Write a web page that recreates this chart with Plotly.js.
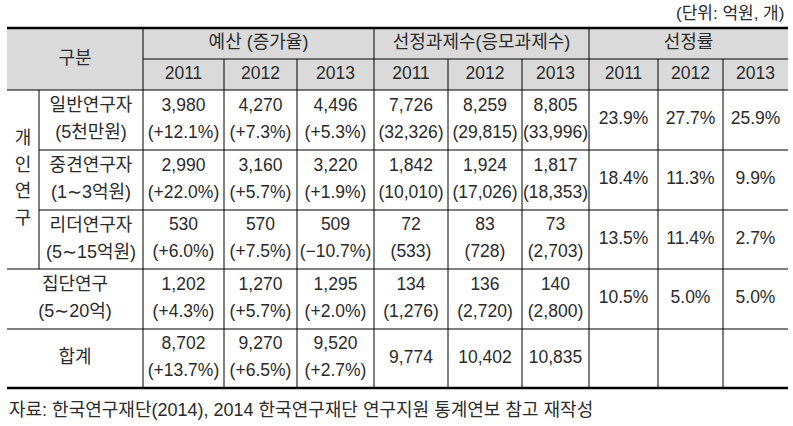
<!DOCTYPE html>
<html>
<head>
<meta charset="utf-8">
<script src="https://cdn.plot.ly/plotly-3.0.1.min.js"></script>
<style>
  body { margin: 0; background: #fff; }
  #table { width: 793px; height: 426px; }
</style>
</head>
<body>
<div id="table"></div>
<script>
// data
const years = ['2011', '2012', '2013'];
const groups = ['예산 (증가율)', '선정과제수(응모과제수)', '선정률'];
const sideLabel = '개인연구';
const rowNames = ['일반연구자', '중견연구자', '리더연구자', '집단연구', '합계'];
const rowSubs = ['(5천만원)', '(1∼3억원)', '(5∼15억원)', '(5∼20억)', null];
const budget = [[3980, 4270, 4496], [2990, 3160, 3220], [530, 570, 509], [1202, 1270, 1295], [8702, 9270, 9520]];
const growth = [[12.1, 7.3, 5.3], [22.0, 5.7, 1.9], [6.0, 7.5, -10.7], [4.3, 5.7, 2.0], [13.7, 6.5, 2.7]];
const selected = [[7726, 8259, 8805], [1842, 1924, 1817], [72, 83, 73], [134, 136, 140], [9774, 10402, 10835]];
const applied = [[32326, 29815, 33996], [10010, 17026, 18353], [533, 728, 2703], [1276, 2720, 2800], [null, null, null]];
const rate = [[23.9, 27.7, 25.9], [18.4, 11.3, 9.9], [13.5, 11.4, 2.7], [10.5, 5.0, 5.0], [null, null, null]];
const unitNote = '(단위: 억원, 개)';
const source = '자료: 한국연구재단(2014), 2014 한국연구재단 연구지원 통계연보 참고 재작성';

// grid layout (pixels)
const colEdges = [7, 39, 143, 224, 297, 374, 448, 522, 589, 658, 723, 788];
const rowEdges = [28, 59, 90, 150, 210, 269, 329, 388];
const half = 13.5;

const fmt = v => v.toLocaleString('en-US');
const pct = v => (v < 0 ? '−' : '+') + Math.abs(v).toFixed(1) + '%';
const mid = (a, b) => (a + b) / 2;
const colMid = c => mid(colEdges[c], colEdges[c + 1]);

let tx = [], ty = [], tt = [], ts = [];
const put = (x, y, s) => {
    tx.push(x); ty.push(y); tt.push(s);
    ts.push(/[\uac00-\ud7a3]/.test(s) ? 18 : 17.5);
};

// header
put(mid(colEdges[0], colEdges[2]), mid(rowEdges[0], rowEdges[2]), '구분');
groups.forEach((g, i) => {
    put(mid(colEdges[2 + i * 3], colEdges[5 + i * 3]), mid(rowEdges[0], rowEdges[1]), g);
    years.forEach((y, j) => put(colMid(2 + i * 3 + j), mid(rowEdges[1], rowEdges[2]), y));
});

// side label, stacked
const sideMid = mid(rowEdges[2], rowEdges[5]);
sideLabel.split('').forEach((ch, i) => {
    put(colMid(0), sideMid + (i - 1.5) * 26.7, ch);
});

// body
rowNames.forEach((name, r) => {
    const ym = mid(rowEdges[r + 2], rowEdges[r + 3]);
    const xl = r < 3 ? colMid(1) : mid(colEdges[0], colEdges[2]);
    if (rowSubs[r]) {
        put(xl, ym - half, name);
        put(xl, ym + half, rowSubs[r]);
    } else {
        put(xl, ym, name);
    }
    years.forEach((y, j) => {
        put(colMid(2 + j), ym - half, fmt(budget[r][j]));
        put(colMid(2 + j), ym + half, '(' + pct(growth[r][j]) + ')');
        if (applied[r][j] !== null) {
            put(colMid(5 + j), ym - half, fmt(selected[r][j]));
            put(colMid(5 + j), ym + half, '(' + fmt(applied[r][j]) + ')');
        } else {
            put(colMid(5 + j), ym, fmt(selected[r][j]));
        }
        if (rate[r][j] !== null) {
            put(colMid(8 + j), ym, rate[r][j].toFixed(1) + '%');
        }
    });
});

// lines
const shapes = [{
    type: 'rect', x0: colEdges[0], x1: colEdges[11], y0: rowEdges[0], y1: rowEdges[2],
    fillcolor: '#dadada', line: {width: 0}, layer: 'below'
}];
const hline = (y, x0, x1, w) => shapes.push({type: 'line', x0: x0, x1: x1, y0: y, y1: y, line: {color: '#000', width: w}});
const vline = (x, y0, y1) => shapes.push({type: 'line', x0: x, x1: x, y0: y0, y1: y1, line: {color: '#000', width: 1}});

hline(rowEdges[0], colEdges[0], colEdges[11], 2.6);
hline(rowEdges[1], colEdges[2], colEdges[11], 1);
hline(rowEdges[2], colEdges[0], colEdges[11], 1);
hline(rowEdges[3], colEdges[1], colEdges[11], 1);
hline(rowEdges[4], colEdges[1], colEdges[11], 1);
hline(rowEdges[5], colEdges[0], colEdges[11], 1);
hline(rowEdges[6], colEdges[0], colEdges[11], 1);
hline(rowEdges[7], colEdges[0], colEdges[11], 2.6);
vline(colEdges[1], rowEdges[2], rowEdges[5]);
[2, 5, 8].forEach(c => vline(colEdges[c], rowEdges[0], rowEdges[7]));
[3, 4, 6, 7, 9, 10].forEach(c => vline(colEdges[c], rowEdges[1], rowEdges[7]));

const family = 'Liberation Sans, Arial, Noto Sans CJK KR, sans-serif';
const ink = '#2a2a2a';

const data = [{
    x: tx, y: ty, text: tt,
    mode: 'text', type: 'scatter',
    textposition: 'middle center',
    textfont: {family: family, size: ts, color: ink},
    hoverinfo: 'skip', cliponaxis: false
}];

const layout = {
    width: 793, height: 426,
    margin: {l: 0, r: 0, t: 0, b: 0},
    paper_bgcolor: '#fff', plot_bgcolor: '#fff',
    showlegend: false,
    xaxis: {range: [0, 793], visible: false, fixedrange: true},
    yaxis: {range: [426, 0], visible: false, fixedrange: true},
    shapes: shapes,
    annotations: [
        {x: 786, y: 13, xref: 'x', yref: 'y', text: unitNote, showarrow: false, xanchor: 'right', yanchor: 'middle',
         font: {family: family, size: 17, color: ink}},
        {x: 7, y: 410, xref: 'x', yref: 'y', text: source, showarrow: false, xanchor: 'left', yanchor: 'middle',
         font: {family: family, size: 18, color: ink}}
    ]
};

Plotly.newPlot('table', data, layout, {displayModeBar: false, staticPlot: true});
</script>
</body>
</html>
